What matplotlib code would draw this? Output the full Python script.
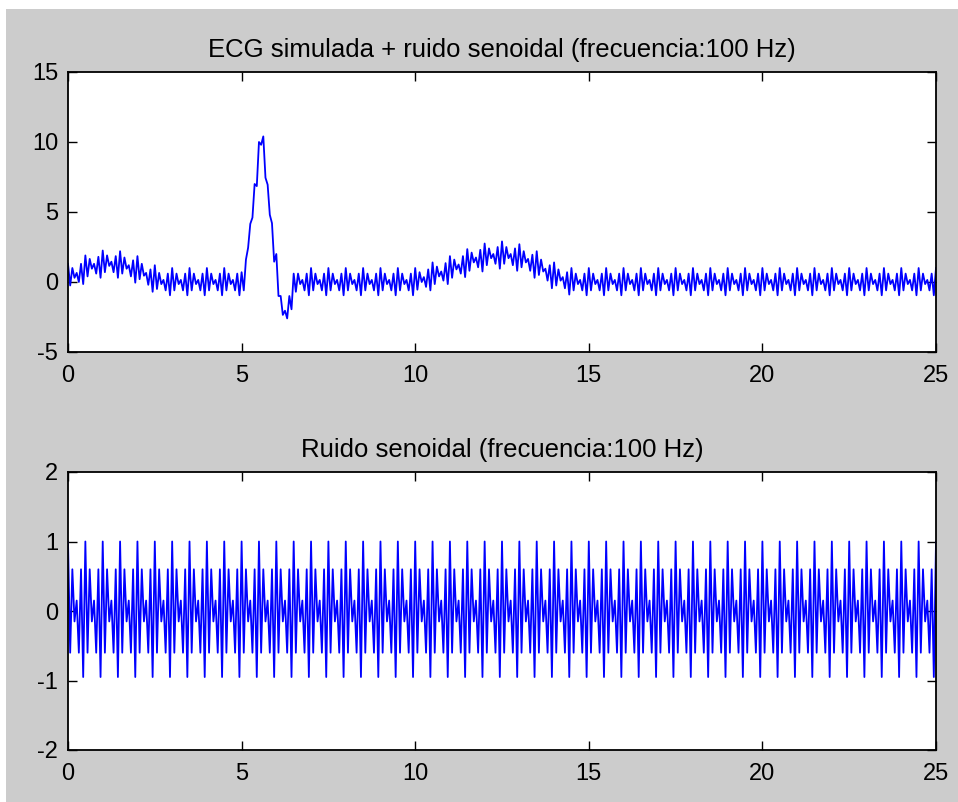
import numpy as np
import matplotlib
matplotlib.use("Agg")
import matplotlib.pyplot as plt
from matplotlib.patches import Rectangle

plt.rcParams['font.family'] = ['Liberation Sans', 'DejaVu Sans']
plt.rcParams['axes.unicode_minus'] = False

# time axis: 0 .. 25, step 0.0625 (401 samples)
dt = 0.0625
nSamples = 401

ruidoPatron = [1.0, -0.6, 0.6, -0.15, 0.15, -0.6, 0.6, -0.95]

# simulated ECG (noise removed)
ondaP = [0.3, 0.35, 0.4, 0.45,
         0.5, 0.6, 0.7, 0.8, 0.9, 1.0, 1.05, 1.1,
         1.15, 1.2, 1.2, 1.25, 1.25, 1.3, 1.3, 1.3, 1.3, 1.3, 1.25, 1.25, 1.2, 1.2, 1.15, 1.1,
         1.05, 1.0, 0.95, 0.9, 0.85, 0.8, 0.7, 0.6, 0.5, 0.4, 0.3, 0.25, 0.2, 0.1, 0.05, 0.0]
basal1 = [0.0] * 36
complejoQRS = [-0.3, 0.0, 1.0, 2.6, 4.0, 5.2, 6.4, 7.8, 9.0, 10.4, 9.8, 7.6, 6.8, 5.4,
               3.6, 2.4, 1.0, -0.4, -1.6, -2.2, -2.2, -2.0, -1.6, -1.0, -0.4, -0.1, 0.0, 0.0]
basal2 = [0.0] * 52
ondaT = [0.0, 0.05, 0.1, 0.15, 0.2, 0.25, 0.3, 0.35, 0.4, 0.45,
         0.5, 0.55, 0.6, 0.7, 0.75, 0.8, 0.85, 0.9, 1.0, 1.05,
         1.1, 1.2, 1.25, 1.3, 1.35, 1.4, 1.5, 1.55, 1.6, 1.65,
         1.7, 1.7, 1.75, 1.8, 1.8, 1.85, 1.85, 1.9, 1.9, 1.9,
         1.9, 1.9, 1.9, 1.85, 1.85, 1.8, 1.8, 1.75, 1.7, 1.65,
         1.6, 1.55, 1.5, 1.4, 1.35, 1.25, 1.2, 1.1, 1.0, 0.9,
         0.8, 0.7, 0.6, 0.5, 0.4, 0.35, 0.3, 0.25, 0.2, 0.15, 0.1, 0.05, 0.0]
basal3 = [0.0] * 168

t = np.arange(nSamples) * dt
ecg = np.array(ondaP + basal1 + complejoQRS + basal2 + ondaT + basal3)
ruido = np.tile(ruidoPatron, nSamples // len(ruidoPatron) + 1)[:nSamples]

W, H = 958, 802
fig = plt.figure(figsize=(W / 100, H / 100), dpi=100, facecolor='white')
# gray MATLAB-like figure background
fig.patches.append(Rectangle((6 / W, 0), 1 - 6 / W, 1 - 9 / H, transform=fig.transFigure,
                             facecolor='#cccccc', edgecolor='none', zorder=-10))

def estilo(ax, yticks, ylim, titulo):
    ax.set_xlim(0, 25)
    ax.set_ylim(*ylim)
    ax.set_xticks([0, 5, 10, 15, 20, 25])
    ax.set_yticks(yticks)
    ax.tick_params(direction='in', top=True, right=True, length=6.5, width=1.0,
                   labelsize=17, pad=7, colors='black')
    ax.tick_params(axis='x', pad=9)
    for s in ax.spines.values():
        s.set_linewidth(1.3)
    ax.set_title(titulo, fontsize=18.5, pad=11)

ax1 = fig.add_axes([68 / W, 1 - 352 / H, 868 / W, 280 / H])
ax1.plot(t, ecg + ruido, color='#0000ff', lw=1.3)
estilo(ax1, [-5, 0, 5, 10, 15], (-5, 15), 'ECG simulada + ruido senoidal (frecuencia:100 Hz)')

ax2 = fig.add_axes([68 / W, 1 - 750 / H, 868 / W, 278 / H])
ax2.plot(t, ruido, color='#0000ff', lw=1.3)
estilo(ax2, [-2, -1, 0, 1, 2], (-2, 2), 'Ruido senoidal (frecuencia:100 Hz)')

fig.savefig('out.png', dpi=100, facecolor=fig.get_facecolor())
